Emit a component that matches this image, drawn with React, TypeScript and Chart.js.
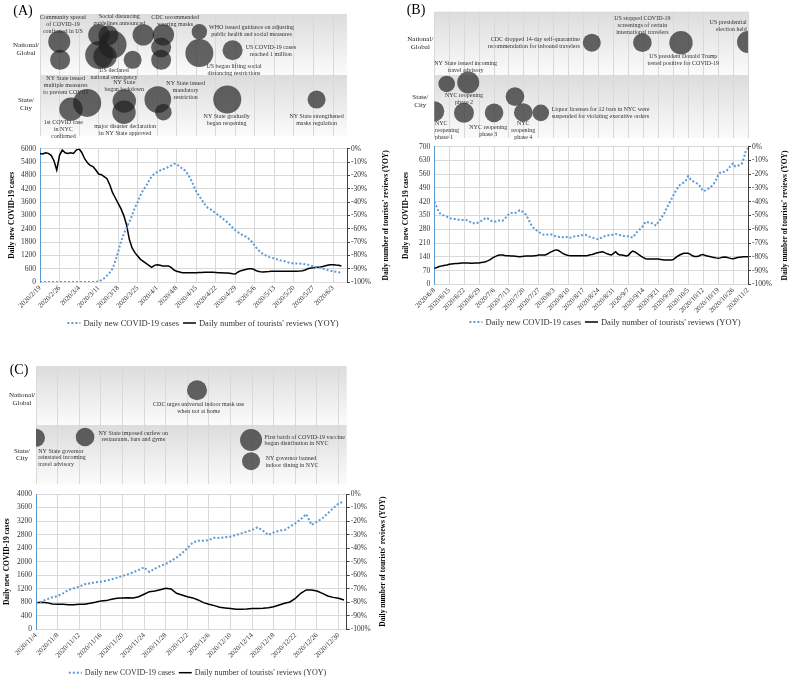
import React, { useEffect, useRef } from 'react';
import { Chart, registerables } from 'chart.js';

Chart.register(...registerables);

const SERIF = "'Liberation Serif', 'Times New Roman', Times, serif";
const BLUE = '#5b9bd5';
const GRID = '#d9d9d9';
const INK = '#333333';
const CASES_TITLE = 'Daily new COVID-19 cases';
const REVIEWS_TITLE = "Daily number of tourists' reviews (YOY)";

// ---------- Panel A: 2020/2/19 – 2020/6/7 ----------
const A_TICKS = ['2020/2/19', '2020/2/26', '2020/3/4', '2020/3/11', '2020/3/18', '2020/3/25', '2020/4/1', '2020/4/8',
  '2020/4/15', '2020/4/22', '2020/4/29', '2020/5/6', '2020/5/13', '2020/5/20', '2020/5/27', '2020/6/3'];
const A_CASES = [
  0, 0, 0, 0, 0, 0, 0, 0, 0, 0, 0, 0, 0, 0, 0, 0, 0, 0, 0, 0, 0,
  30, 80, 170, 290, 420, 600, 950, 1350, 1820, 2150,
  2440, 2700, 3000, 3350, 3600, 3900, 4150, 4310, 4550, 4740,
  4880, 4950, 5020, 5070, 5120, 5180, 5240, 5320, 5300, 5200,
  5100, 5010, 4850, 4630, 4350, 4070, 3880, 3690, 3500, 3350,
  3280, 3180, 3100, 3000, 2900, 2800, 2700, 2580, 2450, 2330,
  2240, 2150, 2090, 2030, 1920, 1800, 1630, 1460, 1350, 1250,
  1190, 1130, 1090, 1060, 1020, 980, 950, 920, 880, 850,
  840, 830, 830, 820, 800, 780, 740, 700, 670, 640,
  610, 580, 540, 510, 480, 460, 440, 420,
];
const A_REVIEWS = [
  -3.5, -4, -3, -3.5, -5, -9, -16, -5, -1, -3,
  -3.5, -3, -3.5, -1, 0, -3, -7.5, -10.5, -12.5, -13.5,
  -16, -19, -19.5, -21, -22.5, -27, -33, -37, -41, -45,
  -50, -57, -68, -74.5, -78, -80.5, -83, -84.5, -86, -87.5,
  -89, -87.5, -87, -87.5, -88, -88, -88, -89, -91, -92,
  -92.5, -93, -93, -93, -93, -93, -93, -92.8, -92.8, -92.7,
  -92.6, -92.6, -92.7, -92.8, -93, -93, -93.2, -93.3, -93.5, -93.8,
  -94, -92.5, -91.5, -91, -90.5, -90, -90, -91, -92, -92.3,
  -92.5, -92.3, -92.2, -92, -92, -92, -92, -92, -92, -92,
  -92, -92, -92, -91.8, -91.5, -91, -90, -89.5, -89.3, -89,
  -89, -88.5, -88, -87.5, -87, -87, -87.3, -87.5, -88,
];
// events: [day offset, row level (1–2 national, 0–1 state/city), bubble size]
const A_EVENTS = [
  [6.9, 1.547, 11], [7.2, 1.248, 10], [21.1, 1.658, 10.7], [24.5, 1.65, 10], [26, 1.498, 14],
  [21.2, 1.326, 14], [23.3, 1.304, 11.7], [33.2, 1.248, 9], [37, 1.658, 10.7], [44.2, 1.658, 10.7],
  [43.4, 1.45, 10], [43.4, 1.248, 10], [57.1, 1.709, 7.7], [57.1, 1.359, 14], [69, 1.405, 10],
  [11.1, 0.44, 11.7], [16.9, 0.543, 14], [30.2, 0.574, 11.7], [30.1, 0.39, 11.7], [42.2, 0.598, 13.3],
  [44.2, 0.39, 8.3], [67.1, 0.598, 14], [99.1, 0.598, 9],
];

// ---------- Panel B: 2020/6/8 – 2020/11/2 ----------
const B_TICKS = ['2020/6/8', '2020/6/15', '2020/6/22', '2020/6/29', '2020/7/6', '2020/7/13', '2020/7/20', '2020/7/27',
  '2020/8/3', '2020/8/10', '2020/8/17', '2020/8/24', '2020/8/31', '2020/9/7', '2020/9/14', '2020/9/21', '2020/9/28',
  '2020/10/5', '2020/10/12', '2020/10/19', '2020/10/26', '2020/11/2'];
const B_CASES = [
  420, 398, 370, 357, 352, 348, 343, 338, 334, 332,
  332, 330, 327, 327, 327, 327, 322, 316, 310, 310,
  312, 317, 323, 328, 338, 335, 327, 321, 319, 319,
  323, 327, 324, 333, 346, 358, 364, 361, 363, 368,
  377, 372, 362, 354, 333, 310, 293, 282, 274, 266,
  259, 253, 252, 253, 255, 253, 248, 243, 242, 241,
  239, 241, 241, 235, 238, 242, 245, 246, 246, 249,
  251, 251, 246, 241, 238, 234, 231, 229, 235, 242,
  245, 248, 251, 251, 253, 256, 253, 250, 247, 245,
  242, 245, 241, 238, 253, 266, 276, 286, 300, 318,
  316, 314, 311, 305, 299, 318, 330, 348, 365, 390,
  410, 430, 452, 472, 490, 505, 512, 518, 530, 550,
  535, 526, 520, 514, 507, 490, 474, 478, 484, 489,
  500, 512, 532, 555, 568, 573, 573, 578, 590, 605,
  615, 600, 602, 607, 612, 640, 680, 692,
];
const B_REVIEWS = [
  -88.4, -88, -87.3, -86.8, -86.5, -86.2, -86, -85.5, -85.2, -85,
  -84.9, -84.8, -84.7, -84.6, -84.5, -84.5, -84.6, -84.7, -84.7, -84.6,
  -84.5, -84.5, -84.2, -83.9, -83.6, -83, -82.3, -81.2, -80.3, -79.5,
  -78.9, -78.7, -78.7, -79, -79.2, -79.3, -79.4, -79.4, -79.6, -79.8,
  -80, -79.8, -79.6, -79.4, -79.4, -79.4, -79.4, -79.2, -79, -78.7,
  -78.7, -78.7, -78.7, -78, -77, -76.2, -75.5, -75, -75.3, -76.3,
  -77.3, -78.2, -78.7, -79, -79.2, -79.2, -79.2, -79.2, -79.2, -79.2,
  -79.2, -79.2, -79, -78.6, -78.3, -77.8, -77.3, -76.9, -76.5, -76.3,
  -77.2, -77.8, -78.3, -78.7, -77.5, -76.3, -78, -78.7, -78.7, -79,
  -79.4, -78.9, -77, -75.8, -76.5, -77.5, -78.6, -79.7, -80.6, -81.4,
  -81.6, -81.6, -81.6, -81.6, -81.6, -81.7, -81.9, -82.1, -82.3, -82.3,
  -82.3, -82.3, -82, -80.8, -79.6, -78.7, -78, -77.5, -77.5, -77.5,
  -78.2, -79.3, -79.8, -79.8, -79.4, -78.6, -78.3, -79.1, -79.5, -79.8,
  -80.2, -80.5, -80.8, -81, -80.8, -80.4, -80.1, -80.3, -80.8, -81.2,
  -81.4, -81, -80.6, -80.4, -80.2, -80, -80, -80,
];
const B_EVENTS = [
  [73.8, 1.511, 9], [97.5, 1.511, 9.3], [115.6, 1.511, 11.7], [147, 1.52, 11],
  [5.8, 0.859, 8.3], [15.9, 0.883, 11], [0, 0.426, 10], [13.9, 0.402, 10], [28, 0.402, 9.3],
  [37.8, 0.659, 9.3], [41.7, 0.408, 9.3], [49.9, 0.402, 8.3],
];

// ---------- Panel C: 2020/11/4 – 2020/12/31 ----------
const C_TICKS = ['2020/11/4', '2020/11/8', '2020/11/12', '2020/11/16', '2020/11/20', '2020/11/24', '2020/11/28',
  '2020/12/2', '2020/12/6', '2020/12/10', '2020/12/14', '2020/12/18', '2020/12/22', '2020/12/26', '2020/12/30'];
const C_CASES = [
  768, 818, 887, 946, 985, 1064, 1163, 1212, 1261, 1330,
  1360, 1389, 1409, 1438, 1478, 1527, 1576, 1626, 1685, 1754,
  1832, 1695, 1793, 1872, 1931, 2020, 2118, 2246, 2394, 2562,
  2620, 2620, 2640, 2709, 2699, 2719, 2739, 2788, 2837, 2886,
  2936, 3015, 2916, 2788, 2867, 2916, 2936, 3034, 3133, 3251,
  3409, 3084, 3182, 3281, 3429, 3577, 3724, 3773,
];
const C_REVIEWS = [
  -80.3, -80, -80.3, -81.3, -81.5, -81.5, -81.8, -81.8, -81.5, -81.5,
  -80.8, -80, -79, -78.8, -77.8, -77.1, -76.8, -76.6, -76.8, -75.9,
  -74.1, -72.2, -71.7, -70.7, -69.7, -70.2, -73.4, -74.6, -75.9, -76.8,
  -78.3, -80.3, -81.5, -82.5, -83.7, -84.2, -84.7, -85.2, -85.2, -85,
  -84.7, -84.7, -84.5, -84, -83.3, -82, -80.8, -79.8, -77.1, -73.4,
  -70.9, -70.9, -71.7, -73.4, -75.4, -76.4, -77.1, -78.3,
];
const C_EVENTS = [
  [29.8, 1.589, 10], [0, 0.782, 9], [9.08, 0.797, 9.3], [39.8, 0.747, 11], [39.8, 0.386, 9],
];

type Note = { lines: string[]; day: number; level: number; align: CanvasTextAlign };

const A_NOTES: Note[] = [
  { lines: ['Community spread', 'of COVID-19', 'confirmed in US'], day: 8.2, level: 1.94, align: 'center' },
  { lines: ['Social distancing', 'guidelines announced'], day: 28.4, level: 1.958, align: 'center' },
  { lines: ['CDC recommended', 'wearing masks'], day: 48.4, level: 1.949, align: 'center' },
  { lines: ['WHO issued guidance on adjusting', 'public health and social measures'], day: 75.8, level: 1.788, align: 'center' },
  { lines: ['US COVID-19 cases', 'reached 1 million'], day: 82.7, level: 1.45, align: 'center' },
  { lines: ['US began lifting social', 'distancing restrictions'], day: 69.5, level: 1.142, align: 'center' },
  { lines: ['US declared', 'national emergency'], day: 26.5, level: 1.082, align: 'center' },
  { lines: ['NY State issued', 'multiple measures', 'to prevent COVID'], day: 9.2, level: 0.948, align: 'center' },
  { lines: ['NY State', 'began lockdown'], day: 30.2, level: 0.875, align: 'center' },
  { lines: ['NY State issued', 'mandatory', 'restriction'], day: 52.2, level: 0.865, align: 'center' },
  { lines: ['1st COVID case', 'in NYC', 'confirmed'], day: 8.35, level: 0.219, align: 'center' },
  { lines: ['major disaster declaration', 'in NY State approved'], day: 30.5, level: 0.163, align: 'center' },
  { lines: ['NY State gradually', 'began reopening'], day: 66.9, level: 0.325, align: 'center' },
  { lines: ['NY State strengthened', 'masks regulation'], day: 99.1, level: 0.325, align: 'center' },
];
const B_NOTES: Note[] = [
  { lines: ['CDC dropped 14-day self-quarantine', 'recommendation for inbound travelers'], day: 68.2, level: 1.567, align: 'right' },
  { lines: ['US stopped COVID-19', 'screenings of certain', 'international travelers'], day: 97.5, level: 1.897, align: 'center' },
  { lines: ['US president Donald Trump', 'tested positive for COVID-19'], day: 116.7, level: 1.288, align: 'center' },
  { lines: ['US presidential', 'election held'], day: 146.4, level: 1.823, align: 'right' },
  { lines: ['NY State issued incoming', 'travel advisory'], day: 14.7, level: 1.184, align: 'center' },
  { lines: ['NYC', 'reopening', 'phase 1'], day: 0.3, level: 0.24, align: 'left' },
  { lines: ['NYC reopening', 'phase 2'], day: 13.9, level: 0.673, align: 'center' },
  { lines: ['NYC reopening', 'phase 3'], day: 25.3, level: 0.17, align: 'center' },
  { lines: ['NYC', 'reopening', 'phase 4'], day: 41.7, level: 0.23, align: 'center' },
  { lines: ['Liquor licenses for 12 bars in NYC were', 'suspended for violating executive orders'], day: 55, level: 0.454, align: 'left' },
];
const C_NOTES: Note[] = [
  { lines: ['CDC urges universal indoor mask use', 'when not at home'], day: 30.1, level: 1.349, align: 'center' },
  { lines: ['NY State governor', 'reinstated incoming', 'travel advisory'], day: 0.42, level: 0.556, align: 'left' },
  { lines: ['NY State imposed curfew on', 'restaurants, bars and gyms'], day: 18, level: 0.862, align: 'center' },
  { lines: ['First batch of COVID-19 vaccine', 'began distribution in NYC'], day: 42.3, level: 0.797, align: 'left' },
  { lines: ['NY governor banned', 'indoor dining in NYC'], day: 42.5, level: 0.432, align: 'left' },
];

const BAND_LABELS = [['National/', 'Global'], ['State/', 'City']];

interface Panel {
  letter: string;
  ticks: string[];
  tickStep: number;
  xMax: number;
  casesMax: number;
  casesStep: number;
  cases: number[];
  reviews: number[];
  events: number[][];
  notes: Note[];
  bandLevels: number[];
}

const PANELS: Panel[] = [
  { letter: '(A)', ticks: A_TICKS, tickStep: 7, xMax: 110, casesMax: 6000, casesStep: 600, cases: A_CASES, reviews: A_REVIEWS, events: A_EVENTS, notes: A_NOTES, bandLevels: [1.425, 0.523] },
  { letter: '(B)', ticks: B_TICKS, tickStep: 7, xMax: 147, casesMax: 700, casesStep: 70, cases: B_CASES, reviews: B_REVIEWS, events: B_EVENTS, notes: B_NOTES, bandLevels: [1.5, 0.59] },
  { letter: '(C)', ticks: C_TICKS, tickStep: 4, xMax: 57.5, casesMax: 4000, casesStep: 400, cases: C_CASES, reviews: C_REVIEWS, events: C_EVENTS, notes: C_NOTES, bandLevels: [1.44, 0.5] },
];

// ---------- layout (page pixels) ----------
type Box = { left: number; top: number; width: number; height: number; l: number; r: number; t: number; b: number };
interface Layout {
  timeline: Box;
  plot: Box;
  letter: number[];
  noteLine: number;
  leftTitleX: number;
  rightTitleX: number;
  legendX: number;
  legendY: number;
  legendFont: number;
}
const LAYOUTS: Layout[] = [
  {
    timeline: { left: 0, top: 0, width: 396, height: 150, l: 40, r: 347, t: 3, b: 147.5 },
    plot: { left: 0, top: 140, width: 396, height: 195, l: 40, r: 347, t: 8.7, b: 142 },
    letter: [23, 11], noteLine: 7, leftTitleX: 12, rightTitleX: 386, legendX: 203, legendY: 323, legendFont: 8.5,
  },
  {
    timeline: { left: 396, top: 0, width: 397, height: 150, l: 38.3, r: 352, t: 3.3, b: 146.5 },
    plot: { left: 396, top: 138, width: 397, height: 197, l: 38.3, r: 352, t: 8.7, b: 146.3 },
    letter: [416, 10], noteLine: 7, leftTitleX: 406, rightTitleX: 785, legendX: 605, legendY: 322, legendFont: 8.5,
  },
  {
    timeline: { left: 0, top: 355, width: 400, height: 140, l: 36, r: 346.7, t: 5, b: 138 },
    plot: { left: 0, top: 485, width: 400, height: 197, l: 36, r: 346.7, t: 9, b: 144.3 },
    letter: [19, 370], noteLine: 6.7, leftTitleX: 7.5, rightTitleX: 383, legendX: 197.5, legendY: 672.7, legendFont: 8,
  },
];

function canvasStyle(b: Box): React.CSSProperties {
  return { position: 'absolute', left: b.left, top: b.top, width: b.width, height: b.height };
}

function Timeline({ panel, layout }: { panel: Panel; layout: Layout }) {
  const ref = useRef<HTMLCanvasElement>(null);
  useEffect(() => {
    const box = layout.timeline;
    const decor = {
      id: 'timelineDecor',
      beforeDraw(chart: any) {
        const { ctx, chartArea: a, scales } = chart;
        const y = scales.y;
        for (const [hi, lo] of [[2, 1], [1, 0]]) {
          const top = y.getPixelForValue(hi);
          const bot = y.getPixelForValue(lo);
          const g = ctx.createLinearGradient(0, top, 0, bot);
          g.addColorStop(0, '#dcdcdc');
          g.addColorStop(1, '#fbfbfb');
          ctx.fillStyle = g;
          ctx.fillRect(a.left, top, a.right - a.left, bot - top);
        }
      },
      afterDraw(chart: any) {
        const { ctx, chartArea: a, scales } = chart;
        const x = scales.x;
        const y = scales.y;
        ctx.save();
        ctx.fillStyle = INK;
        ctx.textBaseline = 'middle';
        ctx.font = `6px ${SERIF}`;
        for (const n of panel.notes) {
          const px = x.getPixelForValue(n.day);
          const py = y.getPixelForValue(n.level);
          ctx.textAlign = n.align;
          n.lines.forEach((ln, i) => ctx.fillText(ln, px, py + i * layout.noteLine));
        }
        ctx.font = `7px ${SERIF}`;
        ctx.textAlign = 'center';
        ctx.fillStyle = '#222';
        BAND_LABELS.forEach((lines, k) => {
          const yc = y.getPixelForValue(panel.bandLevels[k]);
          lines.forEach((ln, i) => ctx.fillText(ln, a.left - 14, yc + (i - 0.5) * 7.5));
        });
        ctx.font = `14px ${SERIF}`;
        ctx.fillStyle = '#000';
        ctx.fillText(panel.letter, layout.letter[0] - box.left, layout.letter[1] - box.top);
        ctx.restore();
      },
    };
    const chart = new Chart(ref.current!, {
      type: 'bubble',
      data: {
        datasets: [{
          data: panel.events.map(([d, lv, s]) => ({ x: d, y: lv, r: s })),
          backgroundColor: 'rgba(30,30,30,0.68)',
          borderWidth: 0,
          clip: 0,
        } as any],
      },
      options: {
        animation: false,
        responsive: false,
        events: [],
        layout: { padding: { left: box.l, right: box.width - box.r, top: box.t, bottom: box.height - box.b } },
        plugins: { legend: { display: false }, tooltip: { enabled: false } },
        scales: {
          x: {
            type: 'linear', min: 0, max: panel.xMax,
            ticks: { display: false, stepSize: panel.tickStep, includeBounds: false } as any,
            grid: { color: GRID, drawTicks: false },
            border: { display: false },
            afterFit: (s: any) => { s.height = 0; },
          },
          y: { type: 'linear', min: 0, max: 2, display: false },
        },
      } as any,
      plugins: [decor],
    });
    return () => chart.destroy();
  }, []);
  const b = layout.timeline;
  return <canvas ref={ref} width={b.width} height={b.height} style={canvasStyle(b)} />;
}

function Plot({ panel, layout }: { panel: Panel; layout: Layout }) {
  const ref = useRef<HTMLCanvasElement>(null);
  useEffect(() => {
    const box = layout.plot;
    const axisH = 30;
    const tickFont = { family: SERIF, size: 7.5 };
    const decor = {
      id: 'plotDecor',
      afterDraw(chart: any) {
        const { ctx, chartArea: a, data } = chart;
        const midY = (a.top + a.bottom) / 2;
        ctx.save();
        ctx.fillStyle = '#000';
        ctx.font = `bold 7.5px ${SERIF}`;
        ctx.textAlign = 'center';
        ctx.textBaseline = 'middle';
        const titles: [number, string][] = [
          [layout.leftTitleX - box.left, CASES_TITLE],
          [layout.rightTitleX - box.left, REVIEWS_TITLE],
        ];
        for (const [tx, txt] of titles) {
          ctx.save();
          ctx.translate(tx, midY);
          ctx.rotate(-Math.PI / 2);
          ctx.fillText(txt, 0, 0);
          ctx.restore();
        }
        // legend
        const fs = layout.legendFont;
        ctx.font = `${fs}px ${SERIF}`;
        ctx.textAlign = 'left';
        ctx.fillStyle = INK;
        const sw = 13;
        const gap = 3;
        const between = 4;
        const labels = data.datasets.map((d: any) => d.label as string);
        const w1 = ctx.measureText(labels[0]).width;
        const w2 = ctx.measureText(labels[1]).width;
        const total = sw + gap + w1 + between + sw + gap + w2;
        let lx = layout.legendX - box.left - total / 2;
        const ly = layout.legendY - box.top;
        ctx.lineCap = 'butt';
        ctx.strokeStyle = BLUE;
        ctx.lineWidth = 2;
        ctx.setLineDash([2, 2]);
        ctx.beginPath();
        ctx.moveTo(lx, ly);
        ctx.lineTo(lx + sw, ly);
        ctx.stroke();
        ctx.fillText(labels[0], lx + sw + gap, ly + 0.5);
        lx += sw + gap + w1 + between;
        ctx.setLineDash([]);
        ctx.strokeStyle = '#000';
        ctx.lineWidth = 1.5;
        ctx.beginPath();
        ctx.moveTo(lx, ly);
        ctx.lineTo(lx + sw, ly);
        ctx.stroke();
        ctx.fillText(labels[1], lx + sw + gap, ly + 0.5);
        ctx.restore();
      },
    };
    const chart = new Chart(ref.current!, {
      type: 'line',
      data: {
        datasets: [
          {
            label: CASES_TITLE,
            data: panel.cases.map((v, i) => ({ x: i, y: v })),
            borderColor: BLUE,
            borderWidth: 2,
            borderDash: [2, 2],
            pointRadius: 0,
            tension: 0,
            yAxisID: 'y',
          },
          {
            label: REVIEWS_TITLE,
            data: panel.reviews.map((v, i) => ({ x: i, y: v })),
            borderColor: '#000',
            borderWidth: 1.5,
            pointRadius: 0,
            tension: 0,
            yAxisID: 'y1',
          },
        ],
      },
      options: {
        animation: false,
        responsive: false,
        events: [],
        layout: { padding: { left: 0, right: 0, top: box.t, bottom: box.height - box.b - axisH } },
        plugins: { legend: { display: false }, tooltip: { enabled: false } },
        scales: {
          x: {
            type: 'linear', min: 0, max: panel.xMax,
            ticks: {
              stepSize: panel.tickStep, includeBounds: false, autoSkip: false,
              minRotation: 45, maxRotation: 45, padding: 2,
              font: { family: SERIF, size: 7 }, color: INK,
              callback: (v: any) => panel.ticks[Math.round(Number(v) / panel.tickStep)] ?? '',
            } as any,
            grid: { color: GRID, drawTicks: false },
            border: { color: GRID },
            afterFit: (s: any) => { s.height = axisH; },
          },
          y: {
            position: 'left', min: 0, max: panel.casesMax,
            ticks: { stepSize: panel.casesStep, font: tickFont, color: INK, padding: 4, callback: (v: any) => String(v) },
            grid: { color: GRID, drawTicks: false },
            border: { color: BLUE },
            afterFit: (s: any) => { s.width = box.l; },
          },
          y1: {
            position: 'right', min: -100, max: 0,
            ticks: { stepSize: 10, font: tickFont, color: INK, padding: 1, callback: (v: any) => `${v}%` },
            grid: { drawOnChartArea: false, drawTicks: true, tickLength: 3, tickColor: '#404040' },
            border: { color: '#404040' },
            afterFit: (s: any) => { s.width = box.width - box.r; },
          },
        },
      } as any,
      plugins: [decor],
    });
    return () => chart.destroy();
  }, []);
  const b = layout.plot;
  return <canvas ref={ref} width={b.width} height={b.height} style={canvasStyle(b)} />;
}

export default function App() {
  return (
    <div style={{ position: 'absolute', left: 0, top: 0, width: 793, height: 682, background: '#fff', overflow: 'hidden' }}>
      {PANELS.map((p, i) => (
        <React.Fragment key={p.letter}>
          <Timeline panel={p} layout={LAYOUTS[i]} />
          <Plot panel={p} layout={LAYOUTS[i]} />
        </React.Fragment>
      ))}
    </div>
  );
}
